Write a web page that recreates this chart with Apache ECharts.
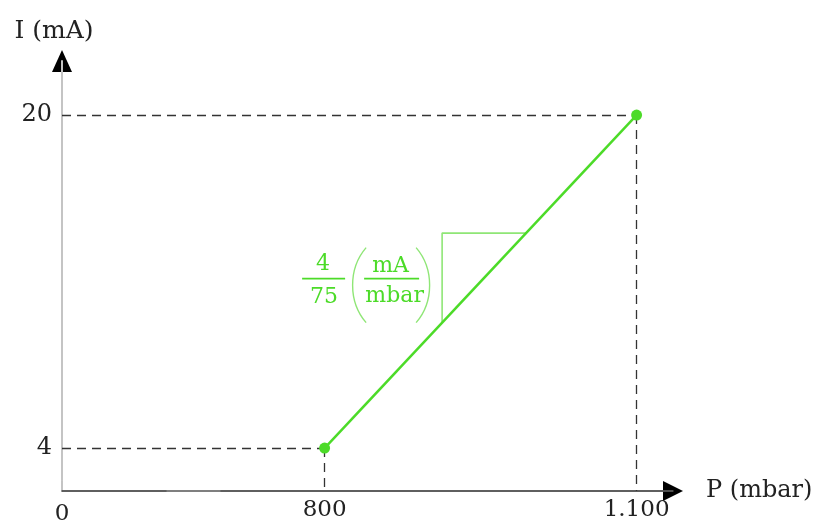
<!DOCTYPE html>
<html><head><meta charset="utf-8">
<script src="https://cdn.jsdelivr.net/npm/echarts@6/dist/echarts.min.js"></script>
<style>html,body{margin:0;padding:0;background:#fff}#c{width:818px;height:525px}</style>
</head><body><div id="c"></div>
<script>
const pressureTicks = [0, 800, 1100];
const pressureTickLabels = ['0', '800', '1.100'];
const currentTicks = [4, 20];
const currentTickLabels = ['4', '20'];
const pressure = [800, 1100];
const current = [4, 20];
const slopeP = [913, 913, 994];
const slopeI = [10.05, 14.33, 14.33];
const slopeNumerator = '4';
const slopeDenominator = '75';
const unitNumerator = 'mA';
const unitDenominator = 'mbar';

const X_MAX = 1135, Y_MAX = 22.6;
const FONT = 'DejaVu Serif';
const GREEN = '#4cdb28';
const LIGHT_GREEN = '#8fe676';
const DASH = '#333';

const chart = echarts.init(document.getElementById('c'), null, {renderer: 'canvas'});

const dashLines = [];
pressure.forEach((p, i) => {
  dashLines.push([{coord: [0, current[i]]}, {coord: [p, current[i]]}]);
  dashLines.push([{coord: [p, current[i]]}, {coord: [p, 0]}]);
});

chart.setOption({
  animation: false,
  backgroundColor: '#fff',
  grid: {left: 62, right: 145, top: 61, bottom: 34, outerBoundsMode: 'none', containLabel: false},
  xAxis: {
    type: 'value', min: 0, max: X_MAX,
    breaks: [{start: 100, end: 700, gap: 52.5}],
    breakArea: {show: false},
    axisLine: {show: true, onZero: false, lineStyle: {color: '#555', width: 1.5}},
    axisTick: {show: false},
    splitLine: {show: false},
    axisLabel: {
      customValues: pressureTicks,
      margin: 5,
      formatter: v => {
        const i = pressureTicks.indexOf(v);
        const t = i >= 0 ? pressureTickLabels[i] : '';
        return v === 0 ? '{zero|' + t + '}' : '{num|' + t + '}';
      },
      fontFamily: FONT, fontSize: 23, color: '#222',
      rich: {
        zero: {fontFamily: FONT, fontSize: 23, color: '#222', lineHeight: 28, padding: [9, 0, 0, 0]},
        num: {fontFamily: FONT, fontSize: 23, color: '#222', lineHeight: 28}
      }
    },
    name: 'P (mbar)', nameLocation: 'end', nameGap: 33,
    nameTextStyle: {fontFamily: FONT, fontSize: 24, color: '#222'}
  },
  yAxis: {
    type: 'value', min: 0, max: Y_MAX,
    breaks: [{start: 0.5, end: 2.5, gap: 0.06}],
    breakArea: {show: false},
    axisLine: {show: true, lineStyle: {color: '#c4c4c4', width: 2}},
    axisTick: {show: false},
    splitLine: {show: false},
    axisLabel: {
      customValues: currentTicks,
      margin: 10,
      formatter: v => {
        const i = currentTicks.indexOf(v);
        return i >= 0 ? currentTickLabels[i] : '';
      },
      fontFamily: FONT, fontSize: 24, color: '#222'
    },
    name: 'I (mA)', nameLocation: 'end', nameGap: 17,
    nameTextStyle: {fontFamily: FONT, fontSize: 25, color: '#222', padding: [0, 16, 0, 0]}
  },
  series: [
    {
      type: 'line',
      data: pressure.map((p, i) => [p, current[i]]),
      lineStyle: {color: GREEN, width: 2.5},
      itemStyle: {color: GREEN},
      symbol: 'circle', symbolSize: 11,
      z: 5,
      markLine: {
        silent: true, symbol: 'none',
        label: {show: false},
        lineStyle: {color: DASH, type: [9, 6], width: 1.3},
        data: dashLines
      }
    },
    {
      type: 'line',
      data: slopeP.map((p, i) => [p, slopeI[i]]),
      lineStyle: {color: LIGHT_GREEN, width: 1.6},
      symbol: 'none',
      z: 3
    }
  ]
});

const end = chart.convertToPixel({gridIndex: 0}, [X_MAX, Y_MAX]);
const org = chart.convertToPixel({gridIndex: 0}, [0, 0]);
const anc = chart.convertToPixel({gridIndex: 0}, [slopeP[0], (slopeI[0] + slopeI[1]) / 2]);
const ax = anc[0], ay = anc[1];
const txt = (s, dx, dy) => ({
  type: 'text', x: ax + dx, y: ay + dy,
  style: {text: s, fontFamily: FONT, fontSize: 22, fill: GREEN, align: 'center', verticalAlign: 'middle'}
});
const bar = (x1, x2, dy) => ({
  type: 'line', shape: {x1: ax + x1, y1: ay + dy, x2: ax + x2, y2: ay + dy},
  style: {stroke: GREEN, lineWidth: 1.6}
});
const paren = (a, b) => ({
  type: 'bezierCurve',
  shape: {x1: ax + a, y1: ay - 30, cpx1: ax + b, cpy1: ay - 9, cpx2: ax + b, cpy2: ay + 24, x2: ax + a, y2: ay + 45},
  style: {stroke: LIGHT_GREEN, lineWidth: 1.4, fill: null}
});

chart.setOption({
  graphic: [
    {type: 'line', shape: {x1: org[0], y1: org[1], x2: end[0], y2: org[1]}, style: {stroke: '#555', lineWidth: 1.5}, z: 1},
    {type: 'polygon', shape: {points: [[end[0] - 10, org[1] - 10], [end[0] + 10, org[1]], [end[0] - 10, org[1] + 10]]}, style: {fill: '#000'}},
    {type: 'polygon', shape: {points: [[org[0] - 10, end[1] + 11], [org[0], end[1] - 11], [org[0] + 10, end[1] + 11]]}, style: {fill: '#000'}},
    txt(slopeNumerator, -119, -13),
    bar(-140, -97, 1),
    txt(slopeDenominator, -118, 20),
    paren(-76, -94),
    txt(unitNumerator, -51.5, -11.5),
    bar(-78, -23, 1),
    txt(unitDenominator, -47.5, 19),
    paren(-26, -8)
  ]
});
</script></body></html>
